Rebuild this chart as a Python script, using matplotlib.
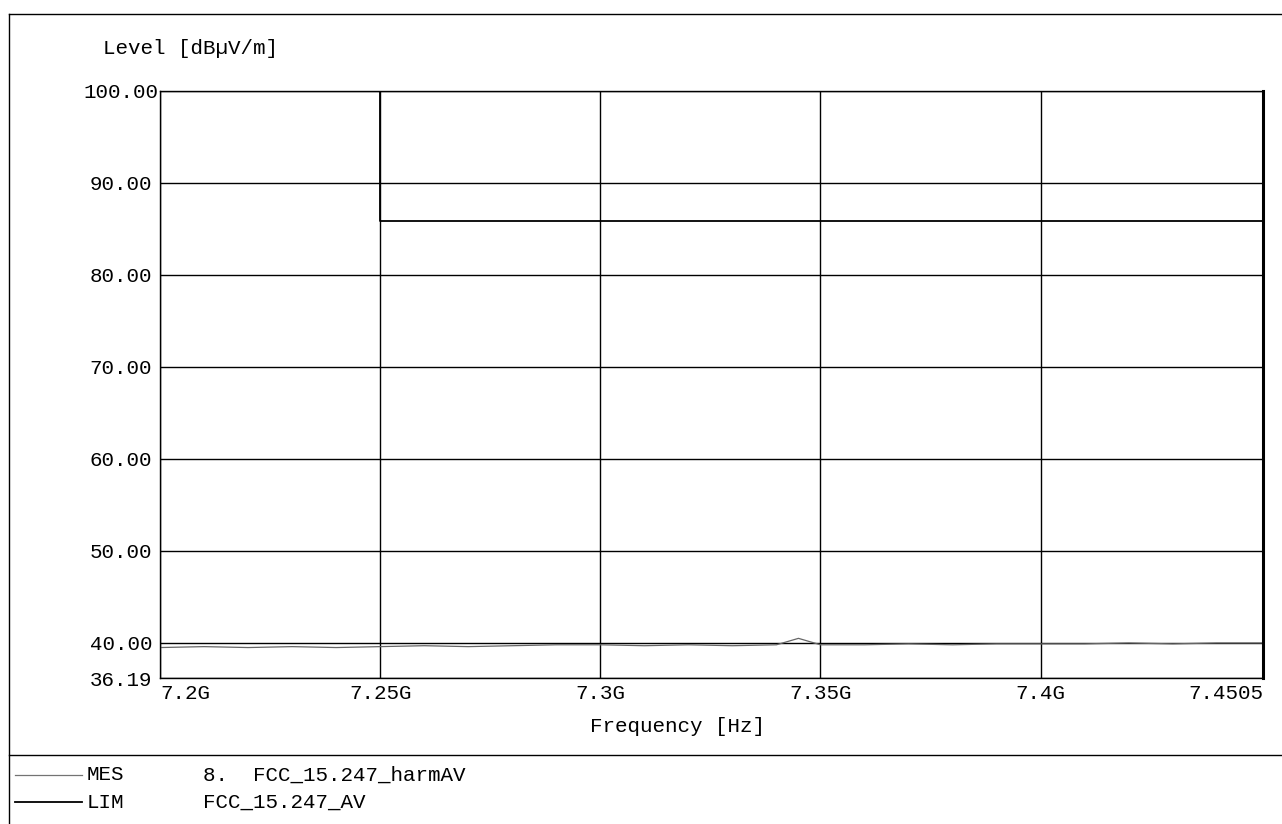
import matplotlib
matplotlib.use('Agg')
import matplotlib.pyplot as plt
from matplotlib.lines import Line2D

# measured trace (MES) in Hz / dBuV/m
freq_mes = [7.200e9, 7.210e9, 7.220e9, 7.230e9, 7.240e9, 7.250e9, 7.260e9,
            7.270e9, 7.280e9, 7.290e9, 7.300e9, 7.310e9, 7.320e9, 7.330e9,
            7.340e9, 7.345e9, 7.350e9, 7.360e9, 7.370e9, 7.380e9, 7.390e9,
            7.400e9, 7.410e9, 7.420e9, 7.430e9, 7.440e9, 7.4505e9, 7.4505e9,
            7.4505e9]
level_mes = [39.5, 39.6, 39.5, 39.6, 39.5, 39.6, 39.7,
             39.6, 39.7, 39.8, 39.8, 39.7, 39.8, 39.7,
             39.8, 40.5, 39.8, 39.8, 39.9, 39.8, 39.9,
             39.9, 39.9, 40.0, 39.9, 40.0, 40.0, 41.8,
             38.0]

# limit line (LIM), above the plot below 7.25 GHz
freq_lim = [7.200e9, 7.250e9, 7.250e9, 7.4505e9]
level_lim = [120.0, 120.0, 85.9, 85.9]

y_ticks = [36.19, 40, 50, 60, 70, 80, 90, 100]
y_labels = ['36.19', '40.00', '50.00', '60.00', '70.00', '80.00', '90.00', '100.00']
x_ticks = [7.2e9, 7.25e9, 7.3e9, 7.35e9, 7.4e9, 7.4505e9]
x_labels = ['7.2G', '7.25G', '7.3G', '7.35G', '7.4G', '7.4505']

font = 'Liberation Mono'
fs = 15

fig = plt.figure(figsize=(12.82, 8.24), dpi=100)
W, H = 1282.0, 824.0

# plot area in pixels of the reference
left, right, top, bottom = 160, 1263, 91, 678
ax = fig.add_axes([left / W, 1 - bottom / H, (right - left) / W, (bottom - top) / H])

ax.plot(freq_mes, level_mes, color='0.4', lw=0.9)
ax.plot(freq_lim, level_lim, color='black', lw=1.3)

ax.set_xlim(7.2e9, 7.4505e9)
ax.set_ylim(36.19, 100)

ax.set_yticks(y_ticks)
ax.set_yticklabels(y_labels, fontfamily=font, fontsize=fs)
ax.set_xticks(x_ticks)
ax.set_xticklabels(x_labels, fontfamily=font, fontsize=fs)
ax.tick_params(axis='both', length=0)
ax.tick_params(axis='y', pad=28)
ax.tick_params(axis='x', pad=4)
for lab in ax.get_yticklabels():
    lab.set_horizontalalignment('center')
xl = ax.get_xticklabels()
xl[0].set_horizontalalignment('left')
xl[-1].set_horizontalalignment('right')

ax.grid(True, color='black', lw=1.0)
for s in ['left', 'top', 'bottom']:
    ax.spines[s].set_linewidth(1.0)
ax.spines['right'].set_linewidth(2.2)

# axis titles
fig.text(103 / W, 1 - 48 / H, 'Level [dB\u00b5V/m]', fontfamily=font, fontsize=fs,
         ha='left', va='center')
fig.text(678 / W, 1 - 726 / H, 'Frequency [Hz]', fontfamily=font, fontsize=fs,
         ha='center', va='center')

# outer frame and separator
fig.add_artist(Line2D([9 / W, 1.0], [1 - 14 / H, 1 - 14 / H], color='black', lw=1.0))
fig.add_artist(Line2D([9 / W, 9 / W], [1 - 14 / H, 0.0], color='black', lw=1.0))
fig.add_artist(Line2D([9 / W, 1.0], [1 - 755 / H, 1 - 755 / H], color='black', lw=1.0))

# legend block
fig.add_artist(Line2D([15 / W, 82 / W], [1 - 775 / H, 1 - 775 / H], color='0.45', lw=0.9))
fig.add_artist(Line2D([15 / W, 82 / W], [1 - 802 / H, 1 - 802 / H], color='black', lw=1.3))
fig.text(87 / W, 1 - 775 / H, 'MES', fontfamily=font, fontsize=fs, ha='left', va='center')
fig.text(87 / W, 1 - 802 / H, 'LIM', fontfamily=font, fontsize=fs, ha='left', va='center')
fig.text(203 / W, 1 - 775 / H, '8.  FCC_15.247_harmAV', fontfamily=font, fontsize=fs,
         ha='left', va='center')
fig.text(203 / W, 1 - 802 / H, 'FCC_15.247_AV', fontfamily=font, fontsize=fs,
         ha='left', va='center')

fig.savefig('out.png', dpi=100)
